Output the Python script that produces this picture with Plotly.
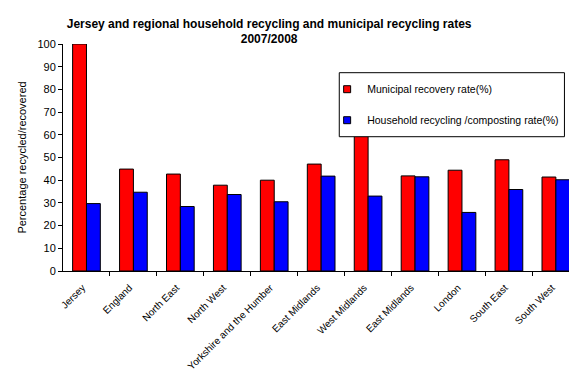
import plotly.graph_objects as go

# Regions and their 2007/2008 rates (%)
regions = [
    "Jersey", "England", "North East", "North West", "Yorkshire and the Humber",
    "East Midlands", "West Midlands", "East Midlands", "London", "South East", "South West",
]
municipal_recovery = [100.0, 44.9, 42.7, 37.8, 40.0, 47.1, 61.0, 41.9, 44.4, 49.0, 41.4]
household_recycling = [29.7, 34.7, 28.4, 33.7, 30.5, 41.8, 33.0, 41.5, 25.8, 35.9, 40.2]

y_ticks = list(range(0, 101, 10))

FONT = "Liberation Sans, Arial, sans-serif"
positions = list(range(len(regions)))

fig = go.Figure()

# Bars (legend entries are drawn by the marker-only traces below)
fig.add_trace(go.Bar(
    x=positions, y=municipal_recovery, name="Municipal recovery rate(%)",
    marker=dict(color="#FF0000", line=dict(color="black", width=1)),
    showlegend=False,
))
fig.add_trace(go.Bar(
    x=positions, y=household_recycling, name="Household recycling /composting rate(%)",
    marker=dict(color="#0000FF", line=dict(color="black", width=1)),
    showlegend=False,
))

# Legend keys: small squares
for name, colour, grp in [
    ("Municipal recovery rate(%)", "#FF0000", "a"),
    ("Household recycling /composting rate(%)", "#0000FF", "b"),
]:
    fig.add_trace(go.Scatter(
        x=[None], y=[None], mode="markers", name=name, legendgroup=grp,
        marker=dict(symbol="square", size=7, color=colour, line=dict(color="black", width=1)),
    ))

# Legend frame
fig.add_shape(
    type="rect", xref="paper", yref="paper",
    x0=0.546, x1=0.991, y0=0.5916, y1=0.8736,
    fillcolor="white", line=dict(color="black", width=1), layer="above",
)

fig.update_layout(
    width=569, height=371,
    margin=dict(l=63, r=0, t=44, b=100),
    paper_bgcolor="white", plot_bgcolor="white",
    font=dict(family=FONT, color="black", size=10),
    barmode="group", bargap=0.41, bargroupgap=0,
    title=dict(
        text="<b>Jersey and regional household recycling and municipal recycling rates<br>2007/2008</b>",
        x=0.473, xanchor="center", y=0.925, yanchor="top",
        font=dict(family=FONT, size=12, color="black"),
    ),
    legend=dict(
        x=0.522, xanchor="left", y=0.8648, yanchor="top",
        bgcolor="rgba(0,0,0,0)", borderwidth=0,
        font=dict(family=FONT, size=10.5, color="black"),
        tracegroupgap=12, itemwidth=30,
    ),
    showlegend=True,
)

fig.update_xaxes(
    range=[-0.5, 10.28],
    tickmode="array", tickvals=positions, ticktext=regions,
    tickangle=-45, ticks="", tickfont=dict(family=FONT, size=10),
    ticklabelstandoff=6, ticklabelshift=-4,
    showline=True, linecolor="black", linewidth=1,
    showgrid=False, zeroline=False,
    minor=dict(tickmode="array", tickvals=[p + 0.5 for p in positions],
               ticks="outside", ticklen=4, tickcolor="black", showgrid=False),
)
fig.update_yaxes(
    range=[0, 100], tickmode="array", tickvals=y_ticks,
    ticks="outside", ticklen=4, tickcolor="black",
    tickfont=dict(family=FONT, size=11),
    showline=True, linecolor="black", linewidth=1,
    showgrid=False, zeroline=False,
    title=dict(text="Percentage recycled/recovered", font=dict(family=FONT, size=11), standoff=8),
)

fig.write_html("out.html")
